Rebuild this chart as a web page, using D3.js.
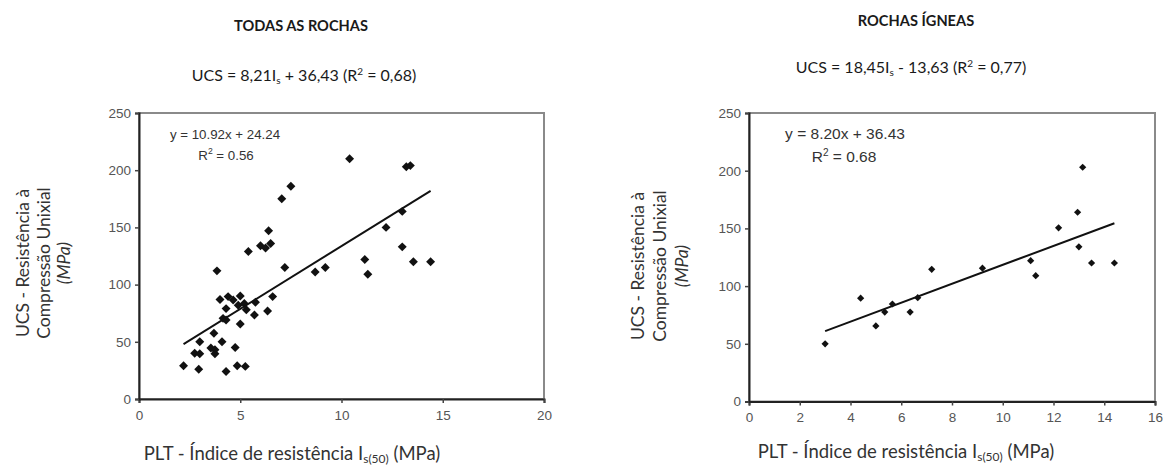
<!DOCTYPE html>
<html>
<head>
<meta charset="utf-8">
<script src="https://cdn.jsdelivr.net/npm/d3@7"></script>
<style>
  body { margin: 0; background: #fff; }
  svg { display: block; }
</style>
</head>
<body>
<div id="root"></div>
<script>
// todas as rochas (left panel)
const allX = [10.4, 7.5, 7.05, 6.4, 5.4, 6.0, 6.25, 6.5, 13.2, 13.4, 13.0, 12.2, 13.0, 11.15, 11.3, 13.55, 14.4,
  9.2, 8.7, 7.2, 3.85, 4.0, 4.4, 4.65, 5.0, 4.3, 4.9, 5.2, 5.3, 5.7, 5.75, 6.6, 6.35, 4.15, 4.3, 5.0,
  3.7, 3.0, 4.1, 3.55, 3.75, 2.75, 3.0, 3.75, 4.75, 2.2, 2.95, 4.3, 4.85, 5.25];
const allY = [210, 186, 175, 147, 129, 134, 132, 136, 203, 204, 164, 150, 133, 122, 109, 120, 120,
  115, 111, 115, 112, 87, 89.5, 86.5, 90, 79, 82, 83.5, 78, 73.5, 84.5, 89.5, 77, 70.5, 69, 65.5,
  57.5, 50, 50, 44.5, 43, 40, 39.5, 39.5, 45, 29, 26, 24, 29, 28.5];
const allTrendX = [2.2, 14.4];
const allTrendY = [48, 182];

// rochas ígneas (right panel)
const igX = [3.0, 4.4, 5.0, 5.35, 5.65, 6.35, 6.65, 7.2, 9.2, 11.1, 11.3, 13.5, 14.4, 13.15, 12.95, 12.2, 13.0];
const igY = [50, 89.5, 65.5, 77.5, 84.5, 77.5, 90, 114.5, 115.5, 122, 109, 120, 120, 203, 164, 150.5, 134];
const igTrendX = [3.0, 14.4];
const igTrendY = [61, 154.5];

const yTicks = [0, 50, 100, 150, 200, 250];
const allXTicks = [0, 5, 10, 15, 20];
const igXTicks = [0, 2, 4, 6, 8, 10, 12, 14, 16];

const width = 1166;
const height = 468;
const outerFont = 'Lato, "Open Sans", sans-serif';
const innerFont = '"Liberation Sans", Arial, sans-serif';

const svg = d3.select('#root').append('svg')
  .attr('width', width)
  .attr('height', height);

function drawPanel(p) {
  const x = d3.scaleLinear().domain([0, p.xMax]).range([p.left, p.right]);
  const y = d3.scaleLinear().domain([0, 250]).range([p.bottom, p.top]);
  const g = svg.append('g');

  // titles
  g.append('text')
    .attr('x', p.titleX).attr('y', p.titleY)
    .attr('text-anchor', 'middle')
    .attr('font-family', outerFont).attr('font-weight', 700)
    .attr('font-size', 14.6).attr('fill', '#1a1a1a')
    .text(p.title);

  const eq = g.append('text')
    .attr('x', p.eqX).attr('y', p.eqY)
    .attr('text-anchor', 'middle')
    .attr('font-family', outerFont).attr('font-size', 16).attr('fill', '#1a1a1a');
  eq.append('tspan').text(p.eq[0]);
  eq.append('tspan').attr('font-size', 10).attr('dy', 3).text('s');
  eq.append('tspan').attr('dy', -3).text(p.eq[1]);
  eq.append('tspan').attr('font-size', 10).attr('dy', -6).text('2');
  eq.append('tspan').attr('dy', 6).text(p.eq[2]);

  // frame: grey top / right, dark axes
  g.append('rect')
    .attr('x', p.left).attr('y', p.top)
    .attr('width', p.right - p.left).attr('height', p.bottom - p.top)
    .attr('fill', 'none').attr('stroke', '#8a8a8a').attr('stroke-width', 2);

  const xAxis = g.append('g')
    .attr('transform', `translate(0,${p.bottom})`)
    .call(d3.axisBottom(x).tickValues(p.xTicks).tickSize(4).tickPadding(7));
  const yAxis = g.append('g')
    .attr('transform', `translate(${p.left},0)`)
    .call(d3.axisLeft(y).tickValues(yTicks).tickSize(4).tickPadding(4));
  [xAxis, yAxis].forEach(a => {
    a.select('.domain').attr('stroke', '#222').attr('stroke-width', 2);
    a.selectAll('.tick line').attr('stroke', '#444').attr('stroke-width', 1.5);
    a.selectAll('.tick text')
      .attr('font-family', innerFont).attr('font-size', p.tickSize).attr('fill', '#555');
  });

  // trend line
  g.append('path')
    .attr('d', d3.line().x(d => x(d[0])).y(d => y(d[1]))(d3.zip(p.trendX, p.trendY)))
    .attr('fill', 'none').attr('stroke', '#111').attr('stroke-width', 2);

  // points
  const sym = d3.symbol(d3.symbolSquare, p.markSize);
  g.selectAll('path.pt')
    .data(d3.zip(p.xs, p.ys))
    .join('path')
    .attr('class', 'pt')
    .attr('d', sym)
    .attr('transform', d => `translate(${x(d[0])},${y(d[1])}) rotate(45)`)
    .attr('fill', '#111');

  // regression label inside
  const lab = g.append('g')
    .attr('font-family', innerFont).attr('font-size', p.labSize)
    .attr('fill', '#333').attr('text-anchor', 'middle');
  lab.append('text').attr('x', p.labX).attr('y', p.labY).text(p.lab1);
  const r2 = lab.append('text').attr('x', p.labX2).attr('y', p.labY + p.labGap);
  r2.append('tspan').text('R');
  r2.append('tspan').attr('font-size', p.labSize * 0.65).attr('dy', -6).text('2');
  r2.append('tspan').attr('dy', 6).text(p.lab2);

  // axis labels
  const xl = g.append('text')
    .attr('x', p.xLabX).attr('y', p.xLabY)
    .attr('text-anchor', 'middle')
    .attr('font-family', outerFont).attr('font-size', 18.5).attr('fill', '#333');
  xl.append('tspan').text('PLT - Índice de resistência I');
  xl.append('tspan').attr('font-size', 12).attr('dy', 3).text('s(50)');
  xl.append('tspan').attr('dy', -3).text(' (MPa)');

  const yl = g.append('g')
    .attr('font-family', outerFont).attr('font-size', 17.5).attr('fill', '#333')
    .attr('text-anchor', 'middle');
  ['UCS - Resistência à', 'Compressão Unixial', '(MPa)'].forEach((t, i) => {
    yl.append('text')
      .attr('transform', `translate(${p.yLabX[i]},${p.yLabY}) rotate(-90)`)
      .attr('dominant-baseline', 'central')
      .attr('font-style', i === 2 ? 'italic' : null)
      .text(t);
  });
}

drawPanel({
  left: 139, right: 544, top: 113, bottom: 399, xMax: 20,
  xs: allX, ys: allY, trendX: allTrendX, trendY: allTrendY, xTicks: allXTicks,
  title: 'TODAS AS ROCHAS', titleX: 301, titleY: 31,
  eq: ['UCS = 8,21I', ' + 36,43 (R', ' = 0,68)'], eqX: 304, eqY: 81,
  markSize: 40, tickSize: 13.5,
  lab1: 'y = 10.92x + 24.24', lab2: ' = 0.56', labX: 225, labX2: 226, labY: 139, labGap: 21, labSize: 13.3,
  xLabX: 292, xLabY: 460, yLabX: [22, 43, 63], yLabY: 263
});

drawPanel({
  left: 749, right: 1155, top: 113, bottom: 401.5, xMax: 16,
  xs: igX, ys: igY, trendX: igTrendX, trendY: igTrendY, xTicks: igXTicks,
  title: 'ROCHAS ÍGNEAS', titleX: 916, titleY: 26,
  eq: ['UCS = 18,45I', ' - 13,63 (R', ' = 0,77)'], eqX: 911, eqY: 73,
  markSize: 26, tickSize: 13.5,
  lab1: 'y = 8.20x + 36.43', lab2: ' = 0.68', labX: 845, labX2: 844, labY: 139, labGap: 23, labSize: 15.5,
  xLabX: 906, xLabY: 458, yLabX: [637, 659, 681], yLabY: 266
});
</script>
</body>
</html>
